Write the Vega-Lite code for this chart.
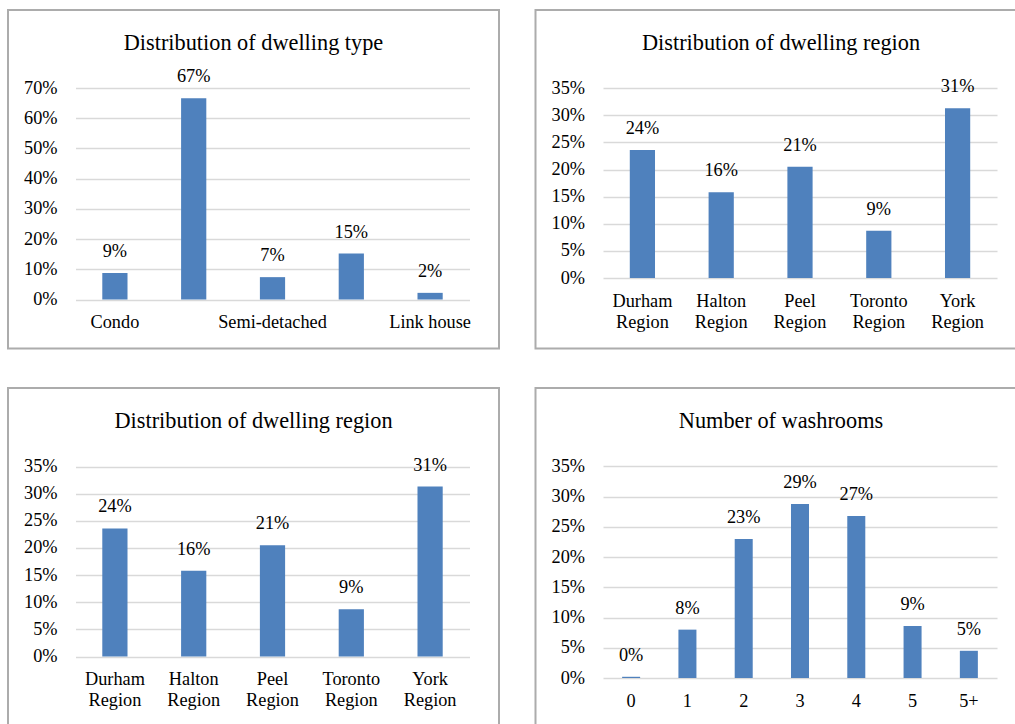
{
  "$schema": "https://vega.github.io/schema/vega-lite/v6.json",
  "padding": {"left": 7, "top": 9, "right": 0, "bottom": 0},
  "background": "white",
  "config": {
    "font": "Liberation Serif",
    "view": {"stroke": "#acacac", "strokeWidth": 2, "fill": "white"},
    "axis": {
      "labelFont": "Liberation Serif",
      "labelFontSize": 18.3,
      "labelColor": "#000000",
      "ticks": false,
      "tickSize": 0,
      "domain": false,
      "gridColor": "#d9d9d9",
      "gridWidth": 1.3
    },
    "axisX": {"grid": false, "labelAngle": 0, "labelLineHeight": 21.7},
    "title": {
      "font": "Liberation Serif",
      "fontSize": 22.3,
      "fontWeight": "normal",
      "color": "#000000",
      "anchor": "middle",
      "frame": "group",
      "offset": -44
    },
    "bar": {"color": "#4f81bd"},
    "text": {"font": "Liberation Serif", "fontSize": 18.3, "color": "#000000", "baseline": "middle", "dy": -21}
  },
  "datasets": {
    "dwellingType": [
      {"category": "Condo", "share": 0.088},
      {"category": "Detached", "share": 0.666},
      {"category": "Semi-detached", "share": 0.074},
      {"category": "Townhouse", "share": 0.152},
      {"category": "Link house", "share": 0.022}
    ],
    "dwellingRegion": [
      {"category": "Durham Region", "share": 0.236},
      {"category": "Halton Region", "share": 0.158},
      {"category": "Peel Region", "share": 0.205},
      {"category": "Toronto Region", "share": 0.087},
      {"category": "York Region", "share": 0.313}
    ],
    "washrooms": [
      {"category": "0", "share": 0.002},
      {"category": "1", "share": 0.080},
      {"category": "2", "share": 0.230},
      {"category": "3", "share": 0.288},
      {"category": "4", "share": 0.268},
      {"category": "5", "share": 0.086},
      {"category": "5+", "share": 0.045}
    ]
  },
  "columns": 2,
  "spacing": {"row": 37, "column": 34.5},
  "concat": [
    {
      "title": "Distribution of dwelling type",
      "width": 491,
      "height": 338.5,
      "data": {"name": "dwellingType"},
      "encoding": {
        "x": {
          "field": "category", "type": "nominal", "sort": null,
          "scale": {"range": [67.5, 461.5], "paddingInner": 0.68, "paddingOuter": 0.34},
          "axis": {
            "title": null, "offset": -49, "labelPadding": 14,
            "labelExpr": "datum.label == 'Detached' || datum.label == 'Townhouse' ? '' : datum.label"
          }
        },
        "y": {
          "field": "share", "type": "quantitative",
          "scale": {"domain": [0, 0.7], "range": [289.5, 78], "nice": false},
          "axis": {"title": null, "values": [0, 0.1, 0.2, 0.3, 0.4, 0.5, 0.6, 0.7], "format": ".0%", "offset": -49, "labelPadding": 0}
        }
      },
      "layer": [
        {"mark": "bar"},
        {"mark": "text", "encoding": {"text": {"field": "share", "type": "quantitative", "format": ".0%"}}}
      ]
    },
    {
      "title": "Distribution of dwelling region",
      "width": 491,
      "height": 338.5,
      "data": {"name": "dwellingRegion"},
      "encoding": {
        "x": {
          "field": "category", "type": "nominal", "sort": null,
          "scale": {"range": [67.5, 461.5], "paddingInner": 0.68, "paddingOuter": 0.34},
          "axis": {"title": null, "offset": -70.5, "labelPadding": 14, "labelExpr": "split(datum.label, ' ')"}
        },
        "y": {
          "field": "share", "type": "quantitative",
          "scale": {"domain": [0, 0.35], "range": [268, 78.2], "nice": false},
          "axis": {"title": null, "values": [0, 0.05, 0.1, 0.15, 0.2, 0.25, 0.3, 0.35], "format": ".0%", "offset": -49, "labelPadding": 0}
        }
      },
      "layer": [
        {"mark": "bar"},
        {"mark": "text", "encoding": {"text": {"field": "share", "type": "quantitative", "format": ".0%"}}}
      ]
    },
    {
      "title": "Distribution of dwelling region",
      "width": 491,
      "height": 338.5,
      "data": {"name": "dwellingRegion"},
      "encoding": {
        "x": {
          "field": "category", "type": "nominal", "sort": null,
          "scale": {"range": [67.5, 461.5], "paddingInner": 0.68, "paddingOuter": 0.34},
          "axis": {"title": null, "offset": -70.5, "labelPadding": 14, "labelExpr": "split(datum.label, ' ')"}
        },
        "y": {
          "field": "share", "type": "quantitative",
          "scale": {"domain": [0, 0.35], "range": [268.5, 78.5], "nice": false},
          "axis": {"title": null, "values": [0, 0.05, 0.1, 0.15, 0.2, 0.25, 0.3, 0.35], "format": ".0%", "offset": -49, "labelPadding": 0}
        }
      },
      "layer": [
        {"mark": "bar"},
        {"mark": "text", "encoding": {"text": {"field": "share", "type": "quantitative", "format": ".0%"}}}
      ]
    },
    {
      "title": "Number of washrooms",
      "width": 491,
      "height": 338.5,
      "data": {"name": "washrooms"},
      "encoding": {
        "x": {
          "field": "category", "type": "nominal", "sort": null,
          "scale": {"range": [67.5, 461.5], "paddingInner": 0.68, "paddingOuter": 0.34},
          "axis": {"title": null, "offset": -48.5, "labelPadding": 14}
        },
        "y": {
          "field": "share", "type": "quantitative",
          "scale": {"domain": [0, 0.35], "range": [290, 78.4], "nice": false},
          "axis": {"title": null, "values": [0, 0.05, 0.1, 0.15, 0.2, 0.25, 0.3, 0.35], "format": ".0%", "offset": -49, "labelPadding": 0}
        }
      },
      "layer": [
        {"mark": "bar"},
        {"mark": "text", "encoding": {"text": {"field": "share", "type": "quantitative", "format": ".0%"}}}
      ]
    }
  ]
}
